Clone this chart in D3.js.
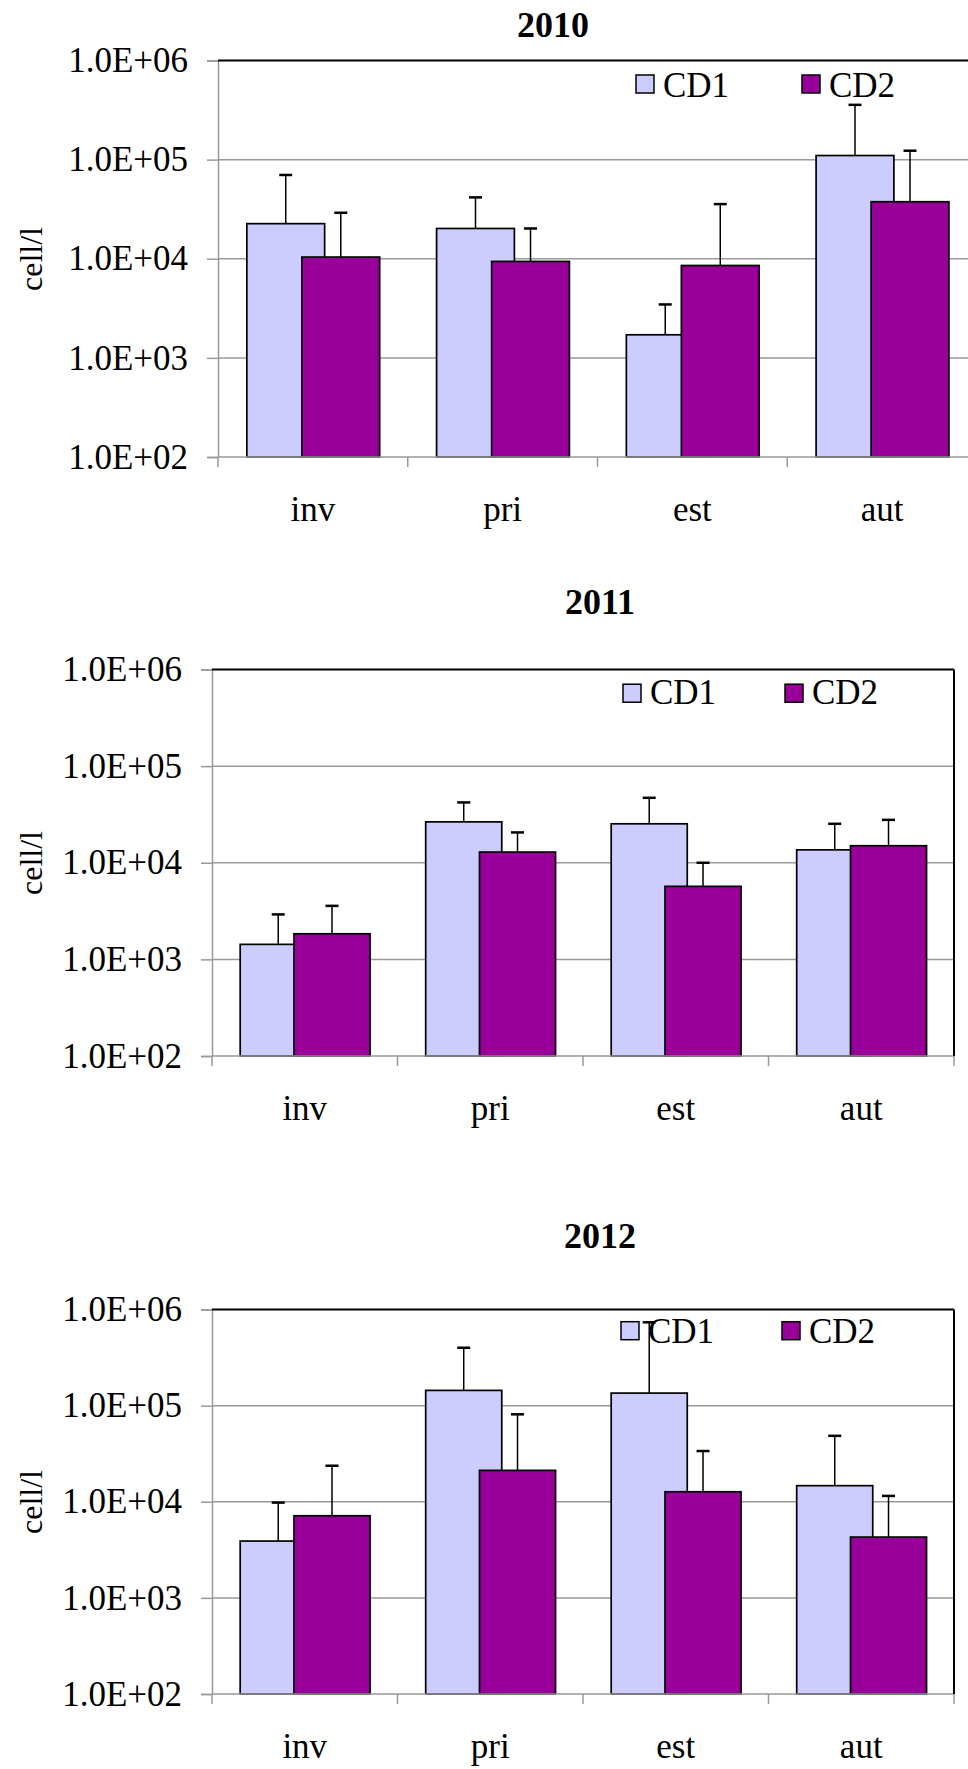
<!DOCTYPE html>
<html>
<head>
<meta charset="utf-8">
<script src="https://cdn.jsdelivr.net/npm/d3@7"></script>
<style>
  html, body { margin: 0; padding: 0; background: #fff; }
  svg { display: block; }
</style>
</head>
<body>
<svg id="chart" width="968" height="1769"></svg>
<script>
// ---- data ----
const categories = ["inv", "pri", "est", "aut"];
const seriesNames = ["CD1", "CD2"];
const years = ["2010", "2011", "2012"];
const tickValues = [1e2, 1e3, 1e4, 1e5, 1e6];
const tickLabels = ["1.0E+02", "1.0E+03", "1.0E+04", "1.0E+05", "1.0E+06"];
const yLabel = "cell/l";

// means (cell/l)
const cd1_2010 = [22600, 20200, 1710, 110000];
const cd2_2010 = [10400, 9400, 8550, 37600];
const cd1_2011 = [1430, 26500, 25300, 13600];
const cd2_2011 = [1840, 12900, 5700, 15000];
const cd1_2012 = [3900, 144000, 135000, 14700];
const cd2_2012 = [7150, 21200, 12700, 4290];
// standard deviations (upper error bars)
const cd1_2010_sd = [47400, 21400, 1750, 247000];
const cd2_2010_sd = [18700, 10800, 27050, 85400];
const cd1_2011_sd = [1490, 15600, 21700, 11700];
const cd2_2011_sd = [1740, 7700, 4300, 12800];
const cd1_2012_sd = [5900, 256000, 601000, 33800];
const cd2_2012_sd = [16550, 60000, 21000, 7210];

const colors = ["#CCCCFF", "#990099"];
const FONT = '"Liberation Serif", "Times New Roman", Times, serif';

// ---- layout (per panel) ----
const panels = [
  { year: years[0], means: [cd1_2010, cd2_2010], sds: [cd1_2010_sd, cd2_2010_sd],
    top: 60.5, bottom: 457, left: 218, right: 977, titleX: 553, titleY: 37,
    labelY: 259, legX: 636, legSp: 166, legTop: 14.5, legBase: 36 },
  { year: years[1], means: [cd1_2011, cd2_2011], sds: [cd1_2011_sd, cd2_2011_sd],
    top: 669.5, bottom: 1056, left: 212, right: 954, titleX: 600, titleY: 614,
    labelY: 863, legX: 623, legSp: 162, legTop: 14.7, legBase: 34.5 },
  { year: years[2], means: [cd1_2012, cd2_2012], sds: [cd1_2012_sd, cd2_2012_sd],
    top: 1309.5, bottom: 1694, left: 212, right: 954, titleX: 600, titleY: 1248,
    labelY: 1502, legX: 621, legSp: 161, legTop: 12.2, legBase: 33 }
];

const svg = d3.select("#chart");
const gridColor = "#999999";

function txt(sel, size, weight) {
  return sel.style("font-family", FONT).style("font-size", size + "px")
    .style("font-weight", weight || "normal").style("fill", "#000");
}

panels.forEach(p => {
  const g = svg.append("g");
  const y = d3.scaleLog().domain([1e2, 1e6]).range([p.bottom, p.top]);
  const x = d3.scaleBand().domain(categories).range([p.left, p.right]).padding(0);
  const bw = x.bandwidth();
  const barW = bw * 0.41, barOff = bw * 0.152, barStep = bw * 0.29;

  // title
  txt(g.append("text").attr("x", p.titleX).attr("y", p.titleY)
    .attr("text-anchor", "middle").text(p.year), 36, "bold");

  // y label
  txt(g.append("text")
    .attr("transform", `translate(41.5,${p.labelY}) rotate(-90)`)
    .attr("text-anchor", "middle").text(yLabel), 32);

  // gridlines
  g.append("g").selectAll("line").data(tickValues.slice(1, 4)).join("line")
    .attr("x1", p.left).attr("x2", p.right)
    .attr("y1", d => y(d)).attr("y2", d => y(d))
    .attr("stroke", gridColor).attr("stroke-width", 1.5);

  // bars
  seriesNames.forEach((s, si) => {
    g.append("g").selectAll("rect").data(categories).join("rect")
      .attr("x", c => x(c) + barOff + si * barStep)
      .attr("y", (c, i) => y(p.means[si][i]))
      .attr("width", barW)
      .attr("height", (c, i) => p.bottom - y(p.means[si][i]))
      .attr("fill", colors[si]).attr("stroke", "#000").attr("stroke-width", 1.7);
  });

  // error bars
  seriesNames.forEach((s, si) => {
    const eg = g.append("g").attr("stroke", "#000");
    categories.forEach((c, i) => {
      const cx = x(c) + barOff + si * barStep + barW / 2;
      const y0 = y(p.means[si][i]);
      const y1 = y(p.means[si][i] + p.sds[si][i]);
      eg.append("line").attr("x1", cx).attr("x2", cx).attr("y1", y0).attr("y2", y1)
        .attr("stroke-width", 1.5);
      eg.append("line").attr("x1", cx - 6.5).attr("x2", cx + 6.5).attr("y1", y1).attr("y2", y1)
        .attr("stroke-width", 2.5);
    });
  });

  // y axis
  const yAxis = d3.axisLeft(y).tickValues(tickValues)
    .tickFormat((d, i) => tickLabels[i]).tickSize(11).tickPadding(19);
  const ya = g.append("g").attr("transform", `translate(${p.left},0)`).call(yAxis);
  ya.select(".domain").attr("stroke", gridColor).attr("stroke-width", 1.5);
  ya.selectAll(".tick line").attr("stroke", gridColor).attr("stroke-width", 1.5);
  txt(ya.selectAll(".tick text"), 35);

  // x axis line + ticks at band boundaries
  g.append("line").attr("x1", p.left).attr("x2", p.right)
    .attr("y1", p.bottom).attr("y2", p.bottom)
    .attr("stroke", gridColor).attr("stroke-width", 1.5);
  const bounds = categories.map(c => x(c)).concat([x.range()[1]]);
  g.append("g").selectAll("line").data(bounds).join("line")
    .attr("x1", d => d).attr("x2", d => d)
    .attr("y1", p.bottom).attr("y2", p.bottom + 10)
    .attr("stroke", gridColor).attr("stroke-width", 1.5);
  txt(g.append("g").selectAll("text").data(categories).join("text")
    .attr("x", c => x(c) + bw / 2).attr("y", p.bottom + 64)
    .attr("text-anchor", "middle")
    .text(c => c), 35);

  // top and right border
  g.append("line").attr("x1", p.left).attr("x2", p.right)
    .attr("y1", y(1e6)).attr("y2", y(1e6))
    .attr("stroke", "#000").attr("stroke-width", 2);
  g.append("line").attr("x1", p.right).attr("x2", p.right)
    .attr("y1", p.top).attr("y2", p.bottom)
    .attr("stroke", "#000").attr("stroke-width", 2);

  // legend
  seriesNames.forEach((s, si) => {
    const lx = p.legX + si * p.legSp;
    g.append("rect").attr("x", lx).attr("y", p.top + p.legTop)
      .attr("width", 18).attr("height", 18)
      .attr("fill", colors[si]).attr("stroke", "#000").attr("stroke-width", 1.5);
    txt(g.append("text").attr("x", lx + 27).attr("y", p.top + p.legBase).text(s), 35);
  });
});
</script>
</body>
</html>
